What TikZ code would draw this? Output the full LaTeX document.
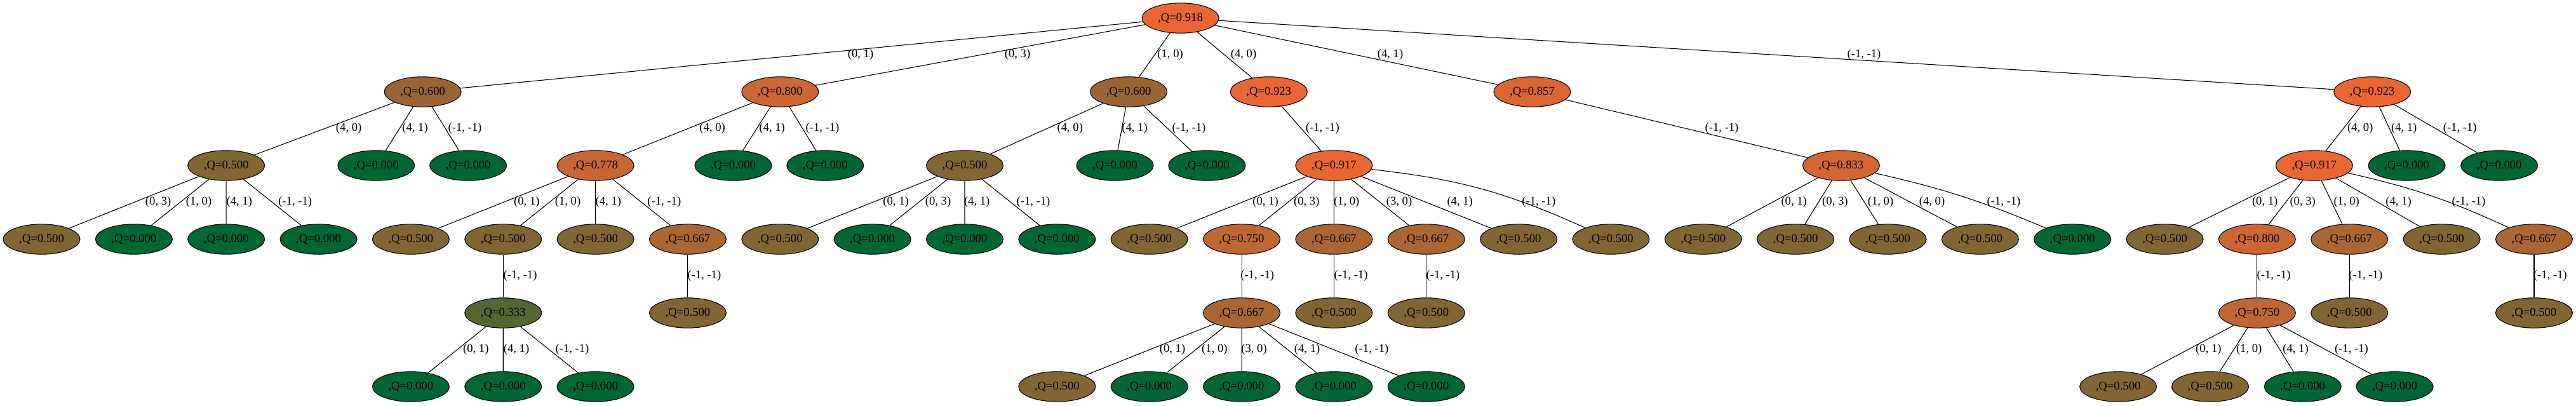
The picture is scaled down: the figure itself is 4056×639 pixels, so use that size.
\documentclass[tikz,border=0pt]{standalone}
\usepackage{fontspec}
\setmainfont{Liberation Serif}
\usetikzlibrary{shapes.geometric}

\tikzset{
  qn/.style={ellipse, draw, line width=0.8pt,
    fill={rgb,255:red,#1;green,102;blue,51},
    minimum width=90.75pt, minimum height=35.5pt, inner sep=0pt,
    font=\fontsize{14}{16}\selectfont},
  lbl/.style={inner sep=0pt, font=\fontsize{14}{16}\selectfont},
  link/.style={line width=0.8pt},
}

\begin{document}
\begin{tikzpicture}[x=0.75pt,y=-0.75pt]
  \useasboundingbox (0,0) rectangle (4056,639);

  % root and first level
  \node[qn=234] (r) at (1858.6,28.5) {,Q=0.918};
  \node[qn=153] (a) at (665.6,144.5) {,Q=0.600};
  \node[qn=204] (b) at (1228.3,144.5) {,Q=0.800};
  \node[qn=153] (c) at (1777.1,144.5) {,Q=0.600};
  \node[qn=235] (d) at (1997.8,144.5) {,Q=0.923};
  \node[qn=219] (e) at (2412.5,144.5) {,Q=0.857};
  \node[qn=235] (f) at (3735.2,144.5) {,Q=0.923};

  % second level
  \foreach \n/\lx/\q/\t in {a1/356.2/128/0.500, a2/592.3/0/0.000, a3/737.2/0/0.000,
      b1/937.6/198/0.778, b2/1154.5/0/0.000, b3/1299.3/0/0.000,
      c1/1519.0/128/0.500, c2/1755.5/0/0.000, c3/1900.4/0/0.000,
      d1/2100.4/234/0.917, e1/2898.9/212/0.833,
      f1/3643.8/234/0.917, f2/3789.5/0/0.000, f3/3935.2/0/0.000}
    \node[qn=\q] (\n) at (\lx,260.5) {,Q=\t};

  % third level, on the leaf grid
  \foreach \n/\k/\q/\t in {a11/0/128/0.500, a12/1/0/0.000, a13/2/0/0.000, a14/3/0/0.000,
      b11/4/128/0.500, b12/5/128/0.500, b13/6/128/0.500, b14/7/170/0.667,
      c11/8/128/0.500, c12/9/0/0.000, c13/10/0/0.000, c14/11/0/0.000,
      d11/12/128/0.500, d12/13/191/0.750, d13/14/170/0.667, d14/15/170/0.667,
      d15/16/128/0.500, d16/17/128/0.500,
      e11/18/128/0.500, e12/19/128/0.500, e13/20/128/0.500, e14/21/128/0.500, e15/22/0/0.000,
      f11/23/128/0.500, f12/24/204/0.800, f13/25/170/0.667, f14/26/128/0.500, f15/27/170/0.667}
    \node[qn=\q] (\n) at ({65.5+145.35*\k},376.5) {,Q=\t};

  % fourth level
  \foreach \n/\k/\q/\t in {b121/5/85/0.333, b141/7/128/0.500,
      d121/13/170/0.667, d131/14/128/0.500, d141/15/128/0.500,
      f121/24/191/0.750, f131/25/128/0.500, f151/27/128/0.500}
    \node[qn=\q] (\n) at ({65.5+145.35*\k},492.5) {,Q=\t};

  % fifth level
  \foreach \n/\lx/\q/\t in {b1211/646.9/0/0.000, b1212/792.25/0/0.000, b1213/937.6/0/0.000,
      d1211/1664.35/128/0.500, d1212/1809.7/0/0.000, d1213/1955.05/0/0.000,
      d1214/2100.4/0/0.000, d1215/2245.75/0/0.000,
      f1211/3335.1/128/0.500, f1212/3480.0/128/0.500, f1213/3625.7/0/0.000, f1214/3770.5/0/0.000}
    \node[qn=\q] (\n) at (\lx,608.5) {,Q=\t};

  % edges from the root
  \foreach \c/\lx/\t in {a/1355/{(0, 1)}, b/1602/{(0, 3)}, c/1842.6/{(1, 0)},
      d/1958/{(4, 0)}, e/2189/{(4, 1)}, f/2935/{(-1, -1)}}
    \draw[link] (r) -- (\c) node[lbl] at (\lx,86.5) {\t};

  % edges below the first level
  \foreach \p/\c/\lx/\t in {a/a1/549.2/{(4, 0)}, a/a2/653.5/{(4, 1)}, a/a3/732/{(-1, -1)},
      b/b1/1121.7/{(4, 0)}, b/b2/1215.7/{(4, 1)}, b/b3/1295/{(-1, -1)},
      c/c1/1684.8/{(4, 0)}, c/c2/1786.5/{(4, 1)}, c/c3/1872/{(-1, -1)},
      d/d1/2082.3/{(-1, -1)}, e/e1/2711/{(-1, -1)},
      f/f1/3716.2/{(4, 0)}, f/f2/3785.2/{(4, 1)}, f/f3/3873.2/{(-1, -1)}}
    \draw[link] (\p) -- (\c) node[lbl] at (\lx,202.5) {\t};

  % edges below the second level
  \foreach \p/\c/\lx/\t in {a1/a11/249.2/{(0, 3)}, a1/a12/313/{(1, 0)}, a1/a13/376.8/{(4, 1)},
      a1/a14/464.7/{(-1, -1)},
      b1/b11/829.4/{(0, 1)}, b1/b12/894/{(1, 0)}, b1/b13/957.9/{(4, 1)}, b1/b14/1045.8/{(-1, -1)},
      c1/c11/1410.6/{(0, 1)}, c1/c12/1477/{(0, 3)}, c1/c13/1538.2/{(4, 1)}, c1/c14/1627/{(-1, -1)},
      d1/d11/1992.6/{(0, 1)}, d1/d12/2057.3/{(0, 3)}, d1/d13/2120.2/{(1, 0)},
      d1/d14/2203/{(3, 0)}, d1/d15/2298.7/{(4, 1)},
      e1/e11/2824.7/{(0, 1)}, e1/e12/2889.4/{(0, 3)}, e1/e13/2961/{(1, 0)}, e1/e14/3042/{(4, 0)},
      f1/f11/3566.2/{(0, 1)}, f1/f12/3625.7/{(0, 3)}, f1/f13/3694.7/{(1, 0)}, f1/f14/3776.6/{(4, 1)}}
    \draw[link] (\p) -- (\c) node[lbl] at (\lx,318.5) {\t};
  \draw[link] (d1) to[bend left=9] (d16) node[lbl] at (2422.8,318.5) {(-1, -1)};
  \draw[link] (e1) to[bend left=5] (e15) node[lbl] at (3154.9,318.5) {(-1, -1)};
  \draw[link] (f1) to[bend left=6] (f15) node[lbl] at (3887,318.5) {(-1, -1)};

  % edges below the third level
  \foreach \p/\c/\lx in {b12/b121/819.1, b14/b141/1108.8, d12/d121/1979.7, d13/d131/2127.1,
      d14/d141/2272, f12/f121/3580, f13/f131/3724.8, f15/f151/4015.4}
    \draw[link] (\p) -- (\c) node[lbl] at (\lx,434.5) {(-1, -1)};

  % edges below the fourth level
  \foreach \p/\c/\lx/\t in {b121/b1211/749.3/{(0, 1)}, b121/b1212/813/{(4, 1)},
      b121/b1213/901/{(-1, -1)},
      d121/d1211/1846/{(0, 1)}, d121/d1212/1912.4/{(1, 0)}, d121/d1213/1974.5/{(3, 0)},
      d121/d1214/2058.1/{(4, 1)}, d121/d1215/2159.9/{(-1, -1)},
      f121/f1211/3477.4/{(0, 1)}, f121/f1212/3541.2/{(1, 0)}, f121/f1213/3614.5/{(4, 1)},
      f121/f1214/3702.4/{(-1, -1)}}
    \draw[link] (\p) -- (\c) node[lbl] at (\lx,550.5) {\t};
\end{tikzpicture}
\end{document}
